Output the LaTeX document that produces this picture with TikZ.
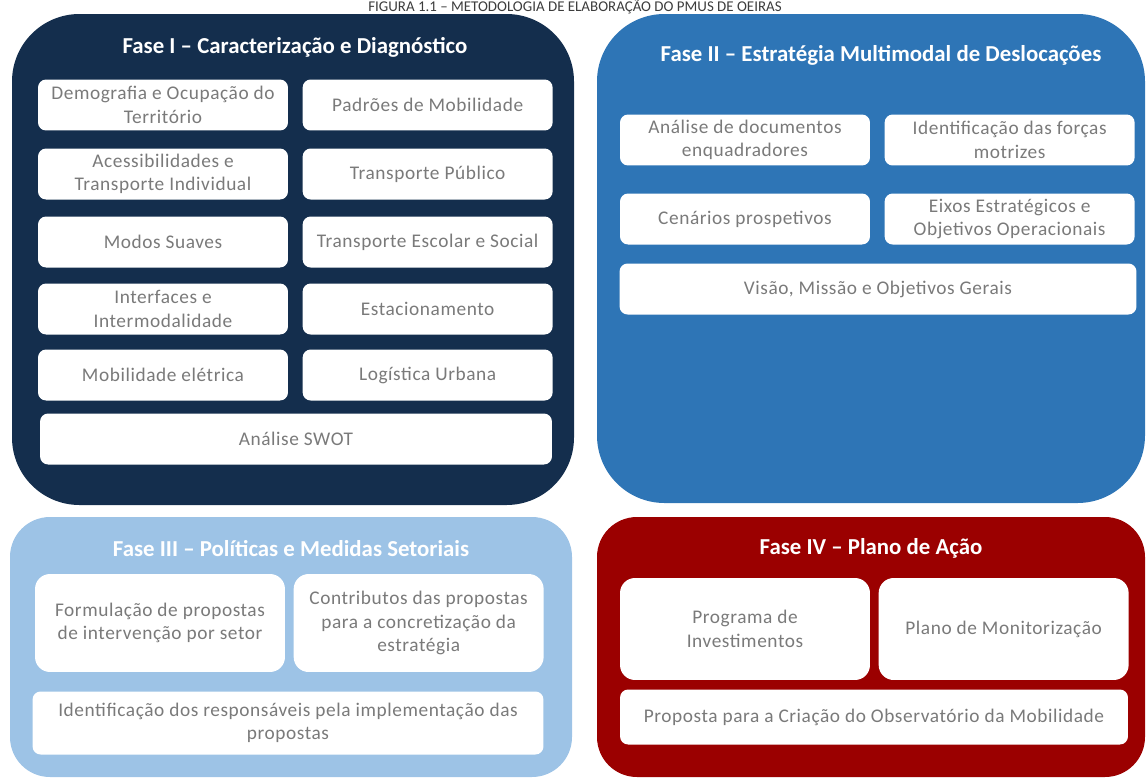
\documentclass[tikz,border=0pt]{standalone}
\usepackage{fontspec}
\setmainfont{Carlito}
\newfontfamily\boxfont[LetterSpace=3]{Carlito}
\usetikzlibrary{positioning}

\definecolor{phaseone}{RGB}{20,46,77}
\definecolor{phasetwo}{RGB}{46,117,182}
\definecolor{phasethree}{RGB}{157,195,230}
\definecolor{phasefour}{RGB}{155,0,0}
\definecolor{boxgrey}{RGB}{122,122,122}
\definecolor{captiongrey}{RGB}{60,60,60}

\begin{document}
\begin{tikzpicture}[x=0.02cm, y=-0.02cm]
    \tikzstyle{item} = [rectangle, fill=white, rounded corners=0.16cm, align=center, text=boxgrey, font=\boxfont\fontsize{11}{13.4}\selectfont, minimum width=5cm, minimum height=1.02cm, inner sep=2pt]
    \tikzstyle{wide} = [item, minimum width=10.24cm]
    \tikzstyle{tall} = [item, rounded corners=0.3cm, minimum height=1.96cm]
    \tikzstyle{phasetitle} = [text=white, font=\bfseries\fontsize{13}{15}\selectfont]
    \tikzstyle{panel} = [rounded corners=1.35cm]

    \clip (0,0) rectangle (1147,778);

    % caption above the four phases
    \node[anchor=base, text=captiongrey, font=\fontsize{8.5}{10}\selectfont] (caption) at (575,11) {FIGURA 1.1 – METODOLOGIA DE ELABORAÇÃO DO PMUS DE OEIRAS};

    % Fase I
    \fill[panel, phaseone] (12,14) rectangle (574,505);
    \node[phasetitle] (titleone) at (295,47) {Fase I – Caracterização e Diagnóstico};
    \node[item] (demografia) at (163,105) {Demografia e Ocupação do\\Território};
    \node[item, right=0.28cm of demografia] (padroes) {Padrões de Mobilidade};
    \node[item] (acessib) at (163,174) {Acessibilidades e\\Transporte Individual};
    \node[item, right=0.28cm of acessib] (publico) {Transporte Público};
    \node[item] (suaves) at (163,242) {Modos Suaves};
    \node[item, right=0.28cm of suaves] (escolar) {Transporte Escolar e Social};
    \node[item] (interfaces) at (163,309) {Interfaces e\\Intermodalidade};
    \node[item, right=0.28cm of interfaces] (estac) {Estacionamento};
    \node[item] (eletrica) at (163,375) {Mobilidade elétrica};
    \node[item, right=0.28cm of eletrica] (logistica) {Logística Urbana};
    \node[wide] (swot) at (296,439) {Análise SWOT};

    % Fase II
    \fill[panel, phasetwo] (597,14) rectangle (1145,503);
    \node[phasetitle] (titletwo) at (881,55) {Fase II – Estratégia Multimodal de Deslocações};
    \node[item] (documentos) at (745,140) {Análise de documentos\\enquadradores};
    \node[item, right=0.28cm of documentos] (forcas) {Identificação das forças\\motrizes};
    \node[item] (cenarios) at (745,219) {Cenários prospetivos};
    \node[item, right=0.28cm of cenarios] (eixos) {Eixos Estratégicos e\\Objetivos Operacionais};
    \node[wide, minimum width=10.34cm] (visao) at (878,289) {Visão, Missão e Objetivos Gerais};

    % Fase III
    \fill[panel, phasethree, rounded corners=0.8cm] (10,517) rectangle (572,777);
    \node[phasetitle] (titlethree) at (291,549) {Fase III – Políticas e Medidas Setoriais};
    \node[tall] (formulacao) at (160,623) {Formulação de propostas\\de intervenção por setor};
    \node[tall, right=0.16cm of formulacao] (contributos) {Contributos das propostas\\para a concretização da\\estratégia};
    \node[wide, minimum width=10.22cm, minimum height=1.26cm] (responsaveis) at (288,723) {Identificação dos responsáveis pela implementação das\\propostas};

    % Fase IV
    \fill[panel, phasefour, rounded corners=0.8cm] (597,517) rectangle (1145,777);
    \node[phasetitle] (titlefour) at (871,548) {Fase IV – Plano de Ação};
    \node[tall, minimum height=2.04cm] (investimentos) at (745,629) {Programa de\\Investimentos};
    \node[tall, minimum height=2.04cm, right=0.16cm of investimentos] (monitorizacao) {Plano de Monitorização};
    \node[wide, minimum width=10.16cm, minimum height=1.1cm] (observatorio) at (874,717) {Proposta para a Criação do Observatório da Mobilidade};
\end{tikzpicture}
\end{document}
